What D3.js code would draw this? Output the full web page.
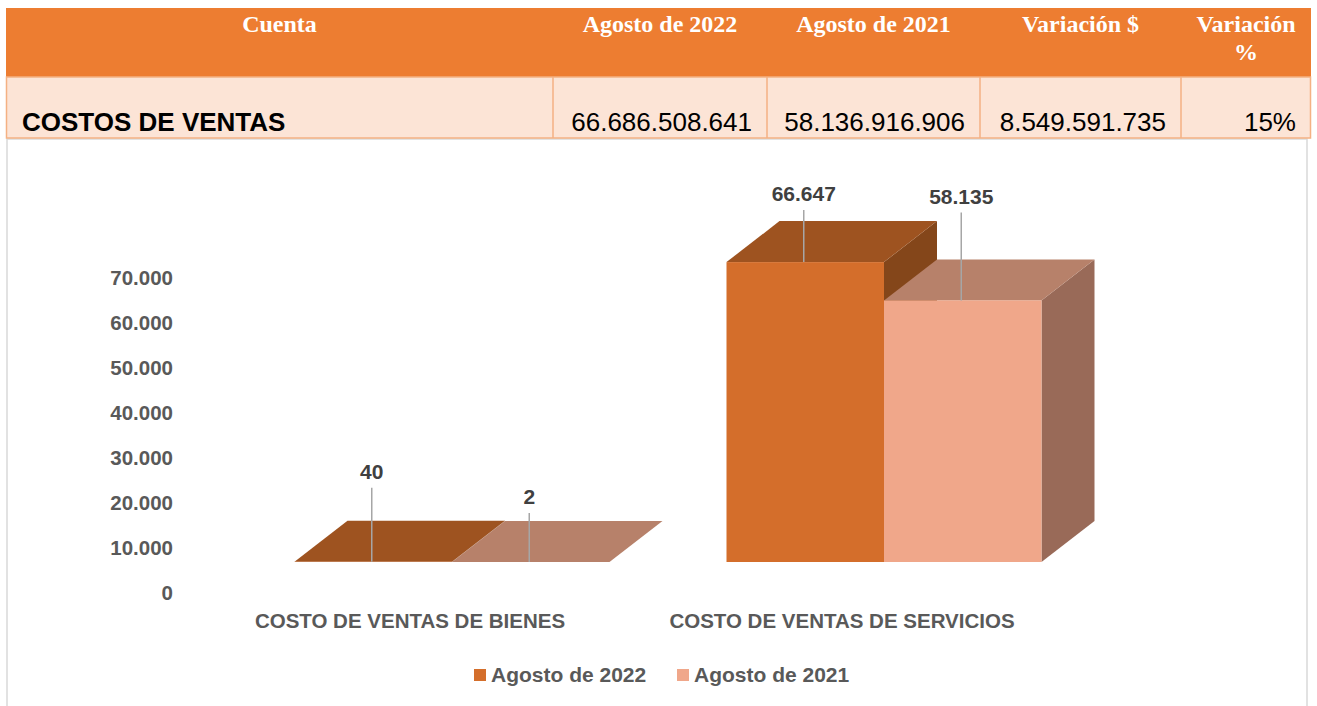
<!DOCTYPE html>
<html lang="es">
<head>
  <meta charset="UTF-8">
  <title>Costos de ventas</title>
  <script src="https://d3js.org/d3.v7.min.js"></script>
  <style>
    body { margin: 0; background: #fff; }
  </style>
</head>
<body>
  <script>
    // table
    var headers = ["Cuenta", "Agosto de 2022", "Agosto de 2021", "Variación $", "Variación|%"];
    var rowValues = ["COSTOS DE VENTAS", "66.686.508.641", "58.136.916.906", "8.549.591.735", "15%"];

    // chart
    var categories = ["COSTO DE VENTAS DE BIENES", "COSTO DE VENTAS DE SERVICIOS"];
    var seriesNames = ["Agosto de 2022", "Agosto de 2021"];
    var values2022 = [40, 66647];
    var values2021 = [2, 58135];
    var yTicks = [0, 10000, 20000, 30000, 40000, 50000, 60000, 70000];

    var width = 1317, height = 706;
    var colBounds = [6, 553, 767, 980, 1181, 1311];
    var headTop = 8, headBottom = 77, rowBottom = 138;

    var svg = d3.select("body").append("svg")
      .attr("width", width)
      .attr("height", height);

    // chart frame
    svg.append("rect")
      .attr("x", 7).attr("y", 139)
      .attr("width", 1300).attr("height", 600)
      .attr("fill", "none")
      .attr("stroke", "#d9d9d9")
      .attr("stroke-width", 1.5);

    // ---------- table ----------
    var tbl = svg.append("g");
    tbl.append("rect")
      .attr("x", colBounds[0]).attr("y", headTop)
      .attr("width", colBounds[5] - colBounds[0]).attr("height", headBottom - headTop)
      .attr("fill", "#ed7d31");
    tbl.append("rect")
      .attr("x", colBounds[0] + 0.5).attr("y", headBottom)
      .attr("width", colBounds[5] - colBounds[0] - 1).attr("height", rowBottom - headBottom)
      .attr("fill", "#fce4d6")
      .attr("stroke", "#f4b183")
      .attr("stroke-width", 1.5);
    tbl.selectAll("line.col")
      .data(colBounds.slice(1, 5))
      .enter().append("line")
      .attr("x1", function(d) { return d; }).attr("x2", function(d) { return d; })
      .attr("y1", headBottom).attr("y2", rowBottom)
      .attr("stroke", "#f4b183")
      .attr("stroke-width", 1.5);

    headers.forEach(function(h, i) {
      var cx = (colBounds[i] + colBounds[i + 1]) / 2;
      var t = tbl.append("text")
        .attr("x", cx).attr("y", 32)
        .attr("text-anchor", "middle")
        .attr("font-family", "'Liberation Serif', 'Times New Roman', serif")
        .attr("font-weight", "bold")
        .attr("font-size", "24px")
        .attr("fill", "#fff");
      h.split("|").forEach(function(part, j) {
        t.append("tspan").attr("x", cx).attr("dy", j === 0 ? 0 : 28).text(part);
      });
    });

    rowValues.forEach(function(v, i) {
      tbl.append("text")
        .attr("x", i === 0 ? 22 : colBounds[i + 1] - 15)
        .attr("y", 131)
        .attr("text-anchor", i === 0 ? "start" : "end")
        .attr("font-family", "'Liberation Sans', Arial, sans-serif")
        .attr("font-weight", i === 0 ? "bold" : "normal")
        .attr("font-size", "26px")
        .attr("fill", "#000")
        .text(v);
    });

    // ---------- 3D bar chart ----------
    var fmt = d3.formatLocale({ decimal: ",", thousands: ".", grouping: [3], currency: ["$", ""] }).format(",d");
    var floorY = 562;
    var depthX = 53, depthY = 41;
    var axisShift = 31;

    var y = d3.scaleLinear().domain([0, 70000]).range([floorY, floorY - 315]);
    var x0 = d3.scalePoint().domain(categories).range([452, 884]);
    var x1 = d3.scaleBand().domain(seriesNames).range([-157.5, 157.5]);

    var faces = {
      "Agosto de 2022": { front: "#d46e2b", top: "#9e5320", side: "#84461a" },
      "Agosto de 2021": { front: "#f0a78a", top: "#b7816a", side: "#996a58" }
    };

    // y axis labels
    svg.append("g").selectAll("text")
      .data(yTicks)
      .enter().append("text")
      .attr("x", 173)
      .attr("y", function(d) { return y(d) + axisShift; })
      .attr("dy", "0.35em")
      .attr("text-anchor", "end")
      .attr("font-family", "'Liberation Sans', Arial, sans-serif")
      .attr("font-weight", "bold")
      .attr("font-size", "20.5px")
      .attr("fill", "#595959")
      .text(function(d) { return fmt(d); });

    // category labels
    svg.append("g").selectAll("text")
      .data(categories)
      .enter().append("text")
      .attr("x", function(d) { return x0(d) - 42; })
      .attr("y", 621)
      .attr("dy", "0.35em")
      .attr("text-anchor", "middle")
      .attr("font-family", "'Liberation Sans', Arial, sans-serif")
      .attr("font-weight", "bold")
      .attr("font-size", "20.5px")
      .attr("fill", "#595959")
      .text(function(d) { return d; });

    var bars = [];
    categories.forEach(function(c, ci) {
      bars.push({ cat: c, s: seriesNames[0], v: values2022[ci], ci: ci, si: 0 });
      bars.push({ cat: c, s: seriesNames[1], v: values2021[ci], ci: ci, si: 1 });
    });

    // label height above bar front top (layout only)
    var labelLift = [[90, 68], [65, 104]];

    var barG = svg.append("g");
    bars.forEach(function(b) {
      var xl = x0(b.cat) + x1(b.s);
      var xr = xl + x1.bandwidth();
      var yt = y(b.v);
      var col = faces[b.s];
      var g = barG.append("g");
      g.append("polygon")
        .attr("points", [[xr, yt], [xr + depthX, yt - depthY], [xr + depthX, floorY - depthY], [xr, floorY]].join(" "))
        .attr("fill", col.side);
      g.append("polygon")
        .attr("points", [[xl, yt], [xl + depthX, yt - depthY], [xr + depthX, yt - depthY], [xr, yt]].join(" "))
        .attr("fill", col.top);
      g.append("rect")
        .attr("x", xl).attr("y", yt)
        .attr("width", xr - xl).attr("height", floorY - yt)
        .attr("fill", col.front);
      b.cx = (xl + xr) / 2 - 1.5;
      b.yt = yt;
    });

    // data labels with leader lines
    var lab = svg.append("g");
    bars.forEach(function(b) {
      var ly = b.yt - labelLift[b.si][b.ci];
      lab.append("line")
        .attr("x1", b.cx).attr("x2", b.cx)
        .attr("y1", ly + 16).attr("y2", b.yt)
        .attr("stroke", "#a6a6a6")
        .attr("stroke-width", 1.5);
      lab.append("text")
        .attr("x", b.cx).attr("y", ly)
        .attr("dy", "0.35em")
        .attr("text-anchor", "middle")
        .attr("font-family", "'Liberation Sans', Arial, sans-serif")
        .attr("font-weight", "bold")
        .attr("font-size", "21px")
        .attr("fill", "#404040")
        .text(fmt(b.v));
    });

    // legend
    var legX = [474, 677];
    var leg = svg.append("g");
    seriesNames.forEach(function(s, i) {
      leg.append("rect")
        .attr("x", legX[i]).attr("y", 669)
        .attr("width", 12).attr("height", 12)
        .attr("fill", faces[s].front);
      leg.append("text")
        .attr("x", legX[i] + 17).attr("y", 675)
        .attr("dy", "0.35em")
        .attr("font-family", "'Liberation Sans', Arial, sans-serif")
        .attr("font-weight", "bold")
        .attr("font-size", "21px")
        .attr("fill", "#595959")
        .text(s);
    });
  </script>
</body>
</html>
